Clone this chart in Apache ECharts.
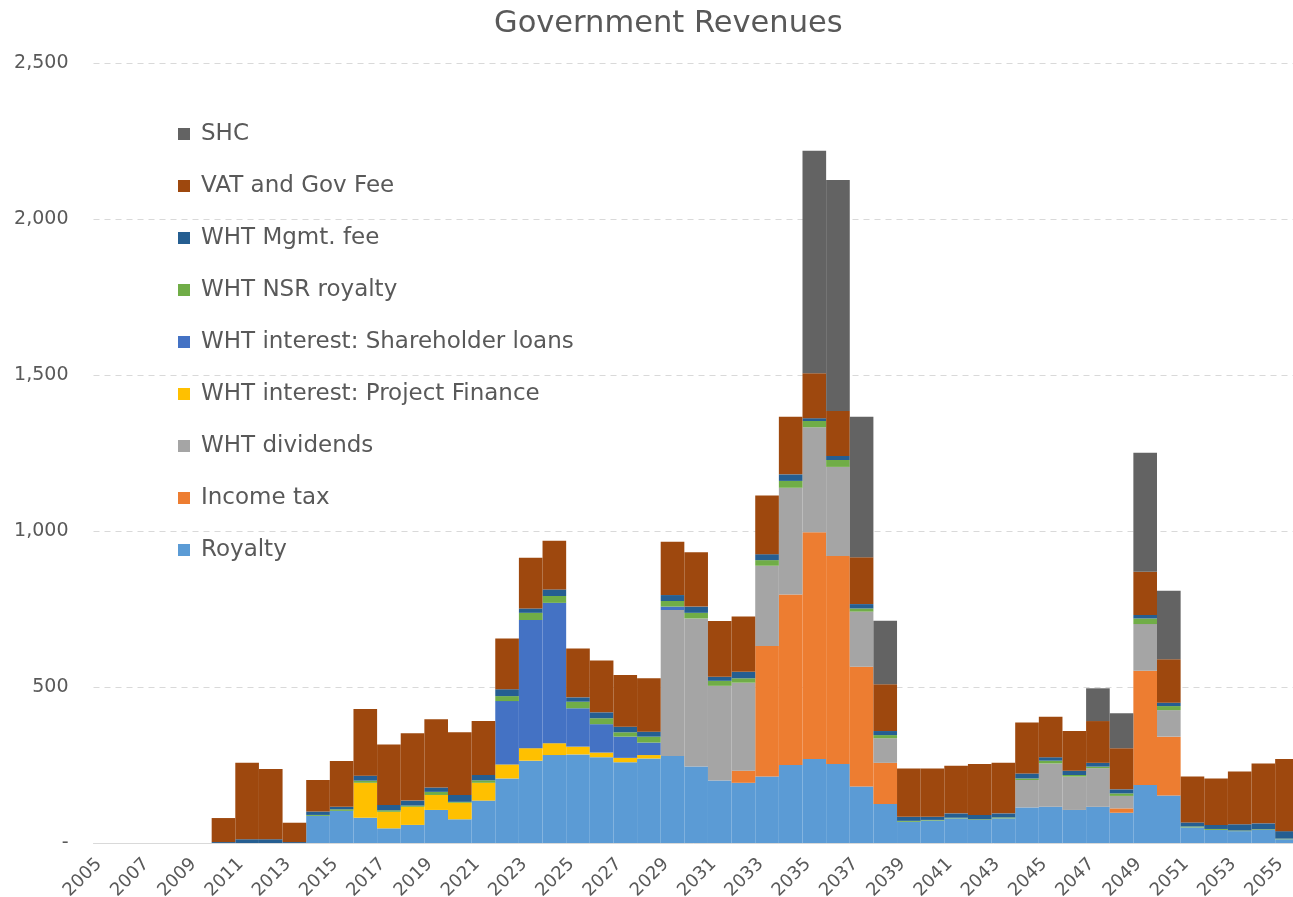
<!DOCTYPE html>
<html>
<head>
<meta charset="utf-8">
<title>Government Revenues</title>
<script src="https://cdn.jsdelivr.net/npm/echarts@6/dist/echarts.min.js"></script>
<style>
  html, body { margin: 0; padding: 0; background: #ffffff; }
  #chart { width: 1293px; height: 897px; }
</style>
</head>
<body>
<div id="chart"></div>
<script>
// Years on the category axis
const years = [];
for (let y = 2005; y <= 2055; y++) years.push(String(y));

// Revenue streams per year, 2005..2055
const royalty = [0,0,0,0,0, 0,0,0,0,87, 103,81,47,58,106, 76,136,207,264,282, 284,275,259,271,279, 245,200,193,213,250, 269,253,181,125,68, 72,79,74,79,114, 116,106,116,97,186, 152,50,42,38,42, 12];
const incomeTax = [0,0,0,0,0, 0,0,0,0,0, 0,0,0,0,0, 0,0,0,0,0, 0,0,0,0,0, 0,0,39,419,547, 727,667,384,132,0, 0,0,0,0,0, 0,0,0,14,366, 189,0,0,0,0, 0];
const whtDividends = [0,0,0,0,0, 0,0,0,0,0, 0,0,0,0,0, 0,0,0,0,0, 0,0,0,0,468, 475,304,282,257,342, 337,286,177,79,0, 0,0,0,0,88, 139,107,124,40,150, 85,0,0,0,0, 0];
const whtProjectFinance = [0,0,0,0,0, 0,0,0,0,0, 0,112,53,58,48, 53,57,45,40,38, 25,15,14,11,0, 0,0,0,0,0, 0,0,0,0,0, 0,0,0,0,0, 0,0,0,0,0, 0,0,0,0,0, 0];
const whtShareholderLoans = [0,0,0,0,0, 0,0,0,0,0, 0,0,0,0,0, 0,0,203,411,450, 123,91,68,40,11, 0,0,0,0,0, 0,0,0,0,0, 0,0,0,0,0, 0,0,0,0,0, 0,0,0,0,0, 0];
const whtNsrRoyalty = [0,0,0,0,0, 0,0,0,0,3, 5,7,5,4,10, 3,8,16,23,22, 21,19,14,19,18, 18,16,14,18,22, 20,22,10,10,3, 2,2,2,3,5, 9,5,5,8,18, 13,3,3,2,2, 2];
const whtMgmtFee = [0,0,0,0,0, 3,12,12,3,11, 8,16,17,16,14, 22,17,22,14,21, 14,19,18,16,19, 20,13,21,19,21, 9,13,14,13,13, 10,14,14,13,16, 11,14,12,13,11, 11,13,13,20,19, 24];
const vatGovFee = [0,0,0,0,0, 77,245,225,62,101, 147,214,194,216,219, 201,173,163,163,156, 157,166,166,171,171, 174,179,177,188,185, 144,144,150,150,155, 155,153,163,162,163, 130,127,134,132,139, 139,147,149,169,192, 231];
const shc = [0,0,0,0,0, 0,0,0,0,0, 0,0,0,0,0, 0,0,0,0,0, 0,0,0,0,0, 0,0,0,0,0, 714,741,451,204,0, 0,0,0,0,0, 0,0,105,112,381, 220,0,0,0,0, 0];

// Y axis ticks
const yMax = 2500;
const yStep = 500;

// Stack order, bottom to top
const seriesDefs = [
  { name: 'Royalty', data: royalty, color: '#5B9BD5' },
  { name: 'Income tax', data: incomeTax, color: '#ED7D31' },
  { name: 'WHT dividends', data: whtDividends, color: '#A5A5A5' },
  { name: 'WHT interest: Project Finance', data: whtProjectFinance, color: '#FFC000' },
  { name: 'WHT interest: Shareholder loans', data: whtShareholderLoans, color: '#4472C4' },
  { name: 'WHT NSR royalty', data: whtNsrRoyalty, color: '#70AD47' },
  { name: 'WHT Mgmt. fee', data: whtMgmtFee, color: '#255E91' },
  { name: 'VAT and Gov Fee', data: vatGovFee, color: '#9E480E' },
  { name: 'SHC', data: shc, color: '#636363' }
];

const FONT = '"DejaVu Sans", sans-serif';
const TEXT = '#595959';

const chart = echarts.init(document.getElementById('chart'), null, { renderer: 'canvas' });

chart.setOption({
  animation: false,
  backgroundColor: '#ffffff',
  title: {
    text: 'Government Revenues',
    left: 489,
    top: 4,
    textStyle: { fontFamily: FONT, fontSize: 30.5, fontWeight: 'normal', color: TEXT }
  },
  legend: {
    orient: 'vertical',
    left: 178,
    top: 122,
    padding: 0,
    itemWidth: 12,
    itemHeight: 12,
    itemGap: 28,
    icon: 'rect',
    data: seriesDefs.map(s => s.name).reverse(),
    textStyle: { fontFamily: FONT, fontSize: 23, lineHeight: 24, color: TEXT, padding: [0, 0, 0, 6] }
  },
  grid: {
    left: 93.5,
    top: 63.3,
    width: 1205.3,
    height: 779.7,
    containLabel: false,
    outerBoundsMode: 'none'
  },
  xAxis: {
    type: 'category',
    data: years,
    axisLine: { show: true, lineStyle: { color: '#D9D9D9', width: 1 } },
    axisTick: { show: false },
    axisLabel: {
      interval: 1,
      rotate: 45,
      margin: 12,
      padding: [0, 9, 0, 0],
      fontFamily: FONT,
      fontSize: 18,
      color: TEXT
    },
    splitLine: { show: false }
  },
  yAxis: {
    type: 'value',
    min: 0,
    max: yMax,
    interval: yStep,
    axisLine: { show: false },
    axisTick: { show: false },
    axisLabel: {
      margin: 25,
      fontFamily: FONT,
      fontSize: 19,
      color: TEXT,
      formatter: v => (v === 0 ? '-' : v.toLocaleString('en-US'))
    },
    splitLine: {
      show: true,
      lineStyle: { color: '#D9D9D9', width: 1, type: [6, 5] }
    }
  },
  series: seriesDefs.map(s => ({
    name: s.name,
    type: 'bar',
    stack: 'revenue',
    data: s.data,
    barCategoryGap: '0%',
    barGap: '0%',
    itemStyle: { color: s.color },
    emphasis: { disabled: true }
  }))
});
</script>
</body>
</html>
